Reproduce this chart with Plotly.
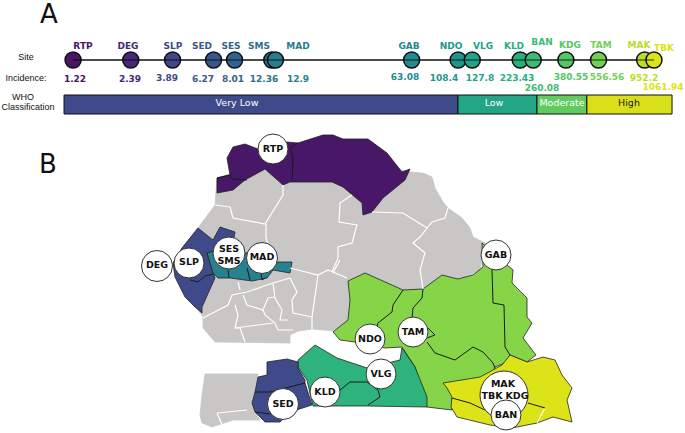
import plotly.graph_objects as go

W, H = 685, 433

# ---------- Panel A data ----------
sites = ["RTP", "DEG", "SLP", "SED", "SES", "SMS", "MAD", "GAB", "NDO", "VLG", "KLD", "BAN", "KDG", "TAM", "MAK", "TBK"]
incidence = [1.22, 2.39, 3.89, 6.27, 8.01, 12.36, 12.9, 63.08, 108.4, 127.8, 223.43, 260.08, 380.55, 556.56, 952.2, 1061.94]
incidence_text = ["1.22", "2.39", "3.89", "6.27", "8.01", "12.36", "12.9", "63.08", "108.4", "127.8", "223.43", "260.08", "380.55", "556.56", "952.2", "1061.94"]
site_colors = ["#481567", "#482677", "#404788", "#39568c", "#33638d", "#2d708e", "#287d8e", "#238a8d",
               "#1f968b", "#20a387", "#29af7f", "#3cbb75", "#55c667", "#73d055", "#b8de29", "#dce319"]
name_x = [83, 128, 173, 202, 231, 259, 298, 409, 451, 483, 514, 542, 570, 601, 639, 664]
name_y = [47, 47, 47, 47, 47, 47, 47, 47, 47, 47, 47, 43, 46, 46, 46, 49]
value_x = [75, 130, 167, 203, 233, 264, 298, 405, 444, 480, 517, 542, 571, 607, 644, 663]
value_y = [80, 80, 79, 80, 80, 80, 80, 78, 79, 79, 79, 88.5, 78, 78, 79, 88]

who_classes = ["Very Low", "Low", "Moderate", "High"]
who_lower = [1.098, 108.2, 271.7, 486]
who_upper = [108.2, 271.7, 486, 1311]
who_colors = ["#3e4a89", "#21a585", "#62cb5f", "#d9e019"]
who_text_colors = ["white", "white", "white", "#222222"]
who_text_x = [237, 494, 562, 629]

# ---------- Panel B data: region outlines ----------
GRAY = "#c9c6c6"; PURPLE = "#481768"; BLUE = "#3e4a89"; DTEAL = "#26828e"
TEAL = "#2eb37c"; GREEN = "#86d549"; YELLOW = "#dce319"

country_x = [217, 215, 198, 182, 173, 188, 196, 203, 203, 215, 290, 290, 298, 313, 333, 350, 420, 480, 485, 473, 470, 462, 448, 443, 435, 432, 423, 411, 300]
country_y = [178, 205, 228, 248, 263, 290, 307, 317, 328, 342, 343, 335, 331, 329, 331, 320, 300, 270, 243, 237, 228, 218, 208, 202, 188, 177, 173, 172, 150]

south_gray_x = [205, 258, 257, 255, 252, 255, 260, 233, 212, 202, 200, 202]
south_gray_y = [374, 374, 380, 392, 403, 412, 420, 420, 427, 423, 415, 395]

north_x = [217, 230, 227, 233, 245, 258, 273, 287, 298, 313, 323, 333, 343, 368, 387, 402, 410, 405, 383, 372, 363, 362, 352, 343, 332, 290, 283, 265, 245, 233, 217]
north_y = [178, 175, 158, 147, 144, 149, 149, 142, 143, 138, 135, 135, 139, 139, 153, 172, 169, 180, 198, 212, 215, 203, 195, 187, 182, 182, 185, 169, 180, 190, 193]

slp_x = [198, 210, 213, 220, 235, 233, 225, 207, 213, 215, 202, 202, 195, 185, 175, 173, 182]
slp_y = [228, 237, 240, 227, 232, 243, 250, 253, 273, 278, 307, 313, 307, 297, 277, 263, 248]

dteal_x = [207, 217, 240, 255, 277, 292, 290, 273, 267, 252, 230, 218, 213]
dteal_y = [253, 250, 253, 253, 262, 262, 273, 270, 278, 281, 278, 278, 273]

green_x = [348, 365, 403, 423, 442, 458, 473, 483, 482, 513, 512, 527, 527, 532, 523, 536, 527, 510, 505, 495, 493, 452, 452, 427, 415, 405, 402, 385, 355, 340, 333, 348, 350]
green_y = [281, 273, 290, 289, 275, 279, 275, 267, 243, 270, 283, 298, 317, 323, 338, 355, 362, 355, 363, 367, 372, 398, 410, 407, 367, 352, 347, 348, 342, 340, 332, 320, 300]

yellow_x = [443, 463, 480, 493, 502, 510, 527, 543, 555, 562, 572, 567, 572, 553, 537, 512, 490, 457, 451, 452, 447]
yellow_y = [383, 380, 377, 370, 365, 355, 362, 357, 360, 375, 388, 400, 422, 417, 423, 428, 425, 417, 407, 397, 388]

teal_x = [298, 315, 337, 367, 400, 402, 415, 427, 427, 367, 313, 307, 298]
teal_y = [360, 345, 358, 368, 360, 348, 367, 397, 407, 406, 406, 380, 367]

sed_x = [267, 287, 298, 298, 305, 305, 312, 290, 280, 265, 255, 252, 255, 258, 267]
sed_y = [362, 359, 362, 368, 380, 383, 405, 412, 422, 422, 412, 403, 392, 377, 375]

fills = [(country_x, country_y, GRAY), (south_gray_x, south_gray_y, GRAY), (north_x, north_y, PURPLE),
         (slp_x, slp_y, BLUE), (dteal_x, dteal_y, DTEAL), (green_x, green_y, GREEN),
         (yellow_x, yellow_y, YELLOW), (teal_x, teal_y, TEAL), (sed_x, sed_y, BLUE)]

black_borders = [
    [(217, 178), (230, 175), (232, 179), (247, 180)],
    [(292, 180), (293, 158), (290, 148), (298, 143)],
    [(403, 290), (393, 305), (392, 312), (378, 323), (377, 327)],
    [(423, 289), (422, 298), (413, 308), (412, 318)],
    [(492, 270), (493, 303), (504, 305), (505, 347), (510, 355)],
    [(427, 342), (435, 353), (455, 360), (473, 347), (483, 352), (493, 363), (495, 368)],
    [(428, 328), (435, 335), (427, 338)],
    [(452, 398), (470, 403), (485, 410)],
    [(528, 403), (545, 408)],
    [(340, 390), (350, 382), (367, 382), (378, 390), (380, 397), (368, 405)],
    [(255, 392), (270, 392), (305, 383)],
    [(255, 412), (270, 414), (285, 405)],
    [(228, 270), (229, 278)], [(247, 268), (250, 280)], [(260, 268), (262, 280), (265, 278)],
    [(190, 280), (198, 282), (205, 276), (213, 274)],
]

white_borders = [
    [(215, 205), (230, 207), (233, 218), (265, 224), (283, 195), (283, 185)],
    [(266, 224), (266, 238), (270, 250)],
    [(352, 195), (340, 203), (339, 222), (357, 225), (352, 243), (338, 247), (338, 258), (332, 272)],
    [(372, 212), (403, 213), (427, 228)],
    [(448, 208), (445, 218), (432, 222), (420, 237), (413, 243), (425, 253), (420, 270), (423, 289)],
    [(203, 318), (223, 307), (228, 305), (232, 295), (247, 292), (273, 283), (290, 278)],
    [(290, 278), (297, 292), (292, 300), (293, 313), (312, 317)],
    [(238, 282), (240, 290)],
    [(243, 295), (247, 305), (263, 310), (268, 298), (275, 297)],
    [(273, 283), (275, 298), (282, 310), (280, 320), (288, 320)],
    [(263, 310), (265, 315), (275, 323), (278, 330), (293, 330)],
    [(235, 305), (238, 315), (235, 328), (240, 328), (245, 342)],
    [(235, 328), (273, 323)],
    [(318, 275), (312, 317), (312, 330)],
    [(290, 268), (318, 275), (328, 270), (347, 278)],
    [(333, 273), (340, 260)],
    [(217, 413), (223, 427)],
    [(217, 413), (247, 410)],
    [(537, 423), (545, 408)],
]

# Site bubbles on the map
bubble_x = [273, 157, 189, 229, 262, 496, 370, 413, 381, 325, 283, 504, 506]
bubble_y = [149, 266, 263, 253, 258, 255, 339, 332, 374, 392, 404, 395, 415]
bubble_size = [30, 31, 30, 32, 31, 30, 30, 30, 30, 30, 31, 48, 30]
bubble_label_x = [273, 157, 189, 229, 229, 262, 496, 370, 413, 381, 325, 283, 503, 492, 517, 506]
bubble_label_y = [150, 266, 263, 250, 262, 258, 256, 340, 333, 375, 393, 405, 385, 397, 397, 416]
bubble_labels = ["RTP", "DEG", "SLP", "SES", "SMS", "MAD", "GAB", "NDO", "TAM", "VLG", "KLD", "SED", "MAK", "TBK", "KDG", "BAN"]

FONT = "DejaVu Sans"
fig = go.Figure()
MAP = dict(xaxis="x2", yaxis="y2", hoverinfo="skip", showlegend=False)

# WHO bars on the log axis
for lo, hi, c in zip(who_lower, who_upper, who_colors):
    fig.add_trace(go.Scatter(x=[lo, hi, hi, lo, lo], y=[95, 95, 114, 114, 95], mode="lines", fill="toself",
                             fillcolor=c, line=dict(color="#111111", width=1), showlegend=False))

# Timeline on the log axis
fig.add_trace(go.Scatter(x=incidence, y=[60] * len(incidence), mode="lines",
                         line=dict(color="black", width=1.2), showlegend=False))
fig.add_trace(go.Scatter(x=incidence, y=[60] * len(incidence), mode="markers",
                         marker=dict(size=16, color=site_colors, opacity=1, line=dict(color="#111111", width=1.5)),
                         showlegend=False))
fig.add_trace(go.Scatter(x=incidence, y=[60] * len(incidence), mode="lines",
                         line=dict(color="black", width=0.8), showlegend=False))

# Map
for xs, ys, c in fills:
    fig.add_trace(go.Scatter(x=xs + xs[:1], y=ys + ys[:1], mode="lines", fill="toself", fillcolor=c,
                             line=dict(color="#222222" if c != GRAY else GRAY, width=0.8), **MAP))

def segs(lines):
    xs, ys = [], []
    for seg in lines:
        xs += [p[0] for p in seg] + [None]
        ys += [p[1] for p in seg] + [None]
    return xs, ys

wx, wy = segs(white_borders)
fig.add_trace(go.Scatter(x=wx, y=wy, mode="lines", line=dict(color="white", width=1.2), **MAP))
bx, by = segs(black_borders)
fig.add_trace(go.Scatter(x=bx, y=by, mode="lines", line=dict(color="#1a1a1a", width=1), **MAP))

fig.add_trace(go.Scatter(x=bubble_x, y=bubble_y, mode="markers",
                         marker=dict(size=bubble_size, color="white", opacity=1, line=dict(color="#333333", width=1)), **MAP))
fig.add_trace(go.Scatter(x=bubble_label_x, y=bubble_label_y, mode="text", text=bubble_labels,
                         textfont=dict(family=FONT, size=9.5, color="#111111", weight="bold"), **MAP))

# Timeline text
fig.add_trace(go.Scatter(x=name_x, y=name_y, mode="text", text=sites,
                         textfont=dict(family=FONT, size=9, color=site_colors, weight="bold"), **MAP))
fig.add_trace(go.Scatter(x=value_x, y=value_y, mode="text", text=incidence_text,
                         textfont=dict(family=FONT, size=9, color=site_colors, weight="bold"), **MAP))
fig.add_trace(go.Scatter(x=who_text_x, y=[104] * 4, mode="text", text=who_classes,
                         textfont=dict(family=FONT, size=9.5, color=who_text_colors), **MAP))

# Row labels and panel letters
fig.add_trace(go.Scatter(x=[26, 26, 23, 28], y=[58, 79, 98, 108], mode="text",
                         text=["Site", "Incidence:", "WHO", "Classification"],
                         textfont=dict(family="Liberation Sans", size=9, color="#111111"), **MAP))
fig.add_trace(go.Scatter(x=[49, 48], y=[16, 166], mode="text", text=["A", "B"],
                         textfont=dict(family=FONT, size=26, color="#111111"), **MAP))

px_per_decade = 197.6
log_left = -0.2834
axis_off = dict(visible=False, showgrid=False, zeroline=False, fixedrange=True)
fig.update_layout(
    width=W, height=H, margin=dict(l=0, r=0, t=0, b=0, pad=0), showlegend=False,
    paper_bgcolor="white", plot_bgcolor="white",
    xaxis=dict(type="log", range=[log_left, log_left + W / px_per_decade], domain=[0, 1], **axis_off),
    yaxis=dict(range=[H, 0], domain=[0, 1], **axis_off),
    xaxis2=dict(range=[0, W], domain=[0, 1], anchor="y2", overlaying="x", **axis_off),
    yaxis2=dict(range=[H, 0], domain=[0, 1], anchor="x2", overlaying="y", **axis_off),
)
fig.write_html("out.html", config=dict(displayModeBar=False),
               post_script="document.body.style.margin='0';")
